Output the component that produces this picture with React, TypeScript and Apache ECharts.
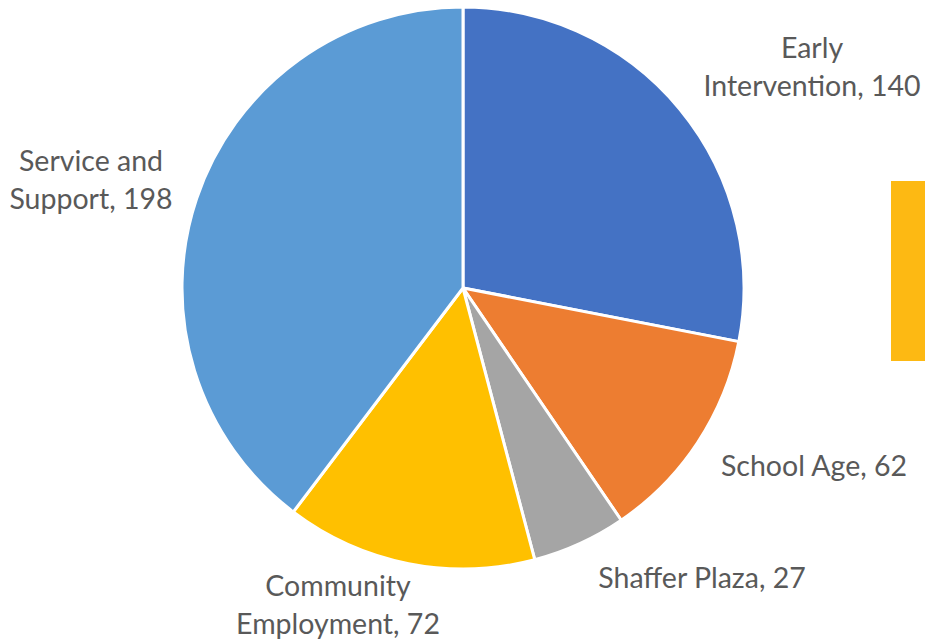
import React, { useEffect, useRef } from "react";
import * as echarts from "echarts";

const categories = ["Early\nIntervention", "School Age", "Shaffer Plaza", "Community\nEmployment", "Service and\nSupport"];
const values = [140, 62, 27, 72, 198];
const colors = ["#4472C4", "#ED7D31", "#A5A5A5", "#FFC000", "#5B9BD5"];

const labelCenters: [number, number][] = [
  [812, 66],
  [814, 465],
  [702, 577],
  [338, 604],
  [91, 179],
];

export default function App() {
  const ref = useRef<HTMLDivElement>(null);
  useEffect(() => {
    if (!ref.current) return;
    const chart = echarts.init(ref.current, null, { renderer: "svg" });
    chart.setOption({
      animation: false,
      backgroundColor: "#ffffff",
      graphic: [
        {
          type: "rect",
          shape: { x: 891, y: 181, width: 40, height: 180 },
          style: { fill: "#FDB913" },
        },
      ],
      series: [
        {
          type: "pie",
          center: [463, 288],
          radius: [0, 281],
          startAngle: 90,
          clockwise: true,
          data: categories.map((c, i) => ({
            name: c,
            value: values[i],
            itemStyle: { color: colors[i] },
          })),
          itemStyle: { borderColor: "#ffffff", borderWidth: 3 },
          label: {
            show: true,
            position: "outside",
            formatter: (p: any) => `${p.name}, ${p.value}`,
            fontFamily: "Lato",
            fontSize: 28.5,
            lineHeight: 38,
            color: "#595959",
            align: "center",
            overflow: "none",
            width: 400,
          },
          labelLine: { show: false },
          labelLayout: (params: any) => {
            const c = labelCenters[params.dataIndex];
            return { x: c[0], y: c[1], align: "center", verticalAlign: "middle" };
          },
          emphasis: { disabled: true },
        },
      ],
    });
    return () => chart.dispose();
  }, []);
  return (
    <div
      ref={ref}
      style={{ position: "absolute", left: 0, top: 0, width: 925, height: 641 }}
    />
  );
}
